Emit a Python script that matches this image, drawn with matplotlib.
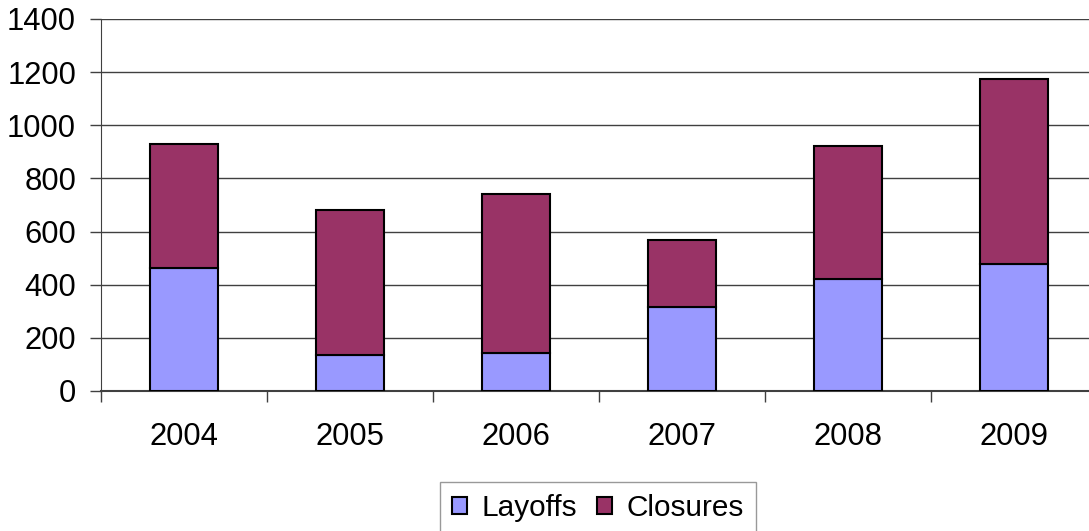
import numpy as np
import matplotlib
matplotlib.use("Agg")
import matplotlib.pyplot as plt

# values
years = ["2004", "2005", "2006", "2007", "2008", "2009"]
layoffs = [464, 137, 143, 318, 420, 479]
closures = [465, 544, 597, 249, 502, 697]

plt.rcParams['font.family'] = ['Liberation Sans', 'DejaVu Sans']

W, H = 1089, 531
fig = plt.figure(figsize=(W / 100, H / 100), dpi=100)
# plot area in pixels: left 101, top 19, bottom 391, category width 166
ax = fig.add_axes([101 / W, 1 - 391 / H, 996 / W, (391 - 19) / H])

x = np.arange(len(years))
bw = 0.41
ax.bar(x, layoffs, bw, color='#9999FF', edgecolor='black', linewidth=1.5,
       label='Layoffs', zorder=3)
ax.bar(x, closures, bw, bottom=layoffs, color='#993366', edgecolor='black',
       linewidth=1.5, label='Closures', zorder=3)

ax.set_xlim(-0.5, len(years) - 0.5)
ax.set_ylim(0, 1400)
ax.set_yticks(range(0, 1401, 200))
ax.yaxis.grid(True, color='#404040', linewidth=1, zorder=0)

ax.set_xticks(x)
ax.set_xticklabels(years)
ax.set_xticks(np.arange(-0.5, len(years), 1), minor=True)
ax.tick_params(axis='x', which='major', length=0, pad=22, labelsize=22.3)
ax.tick_params(axis='x', which='minor', length=8, width=1, color='#404040')
ax.tick_params(axis='y', length=8, width=1, color='#404040', labelsize=22.3, pad=10)

for s in ['top', 'right']:
    ax.spines[s].set_visible(False)
ax.spines['left'].set_color('#404040')
ax.spines['bottom'].set_color('#404040')
ax.spines['bottom'].set_linewidth(1.5)

leg = ax.legend(loc='upper center', bbox_to_anchor=(598 / W, 1 - 482 / H),
                bbox_transform=fig.transFigure, ncol=2, fontsize=21.4,
                frameon=True, fancybox=False, edgecolor='#808080',
                handlelength=0.5, handleheight=0.5, handletextpad=0.5,
                columnspacing=0.65, borderpad=0.4, borderaxespad=0)
leg.get_frame().set_linewidth(1)

fig.savefig('out.png', dpi=100)
